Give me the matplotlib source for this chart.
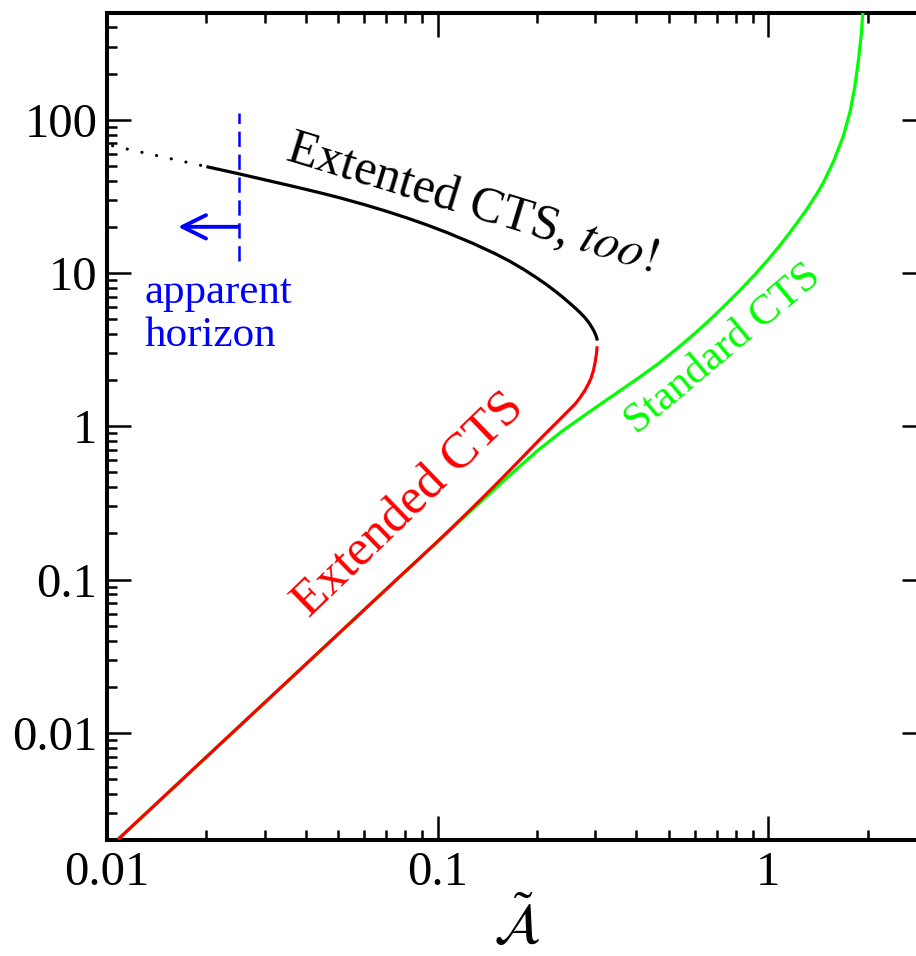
import matplotlib
matplotlib.use("Agg")
import matplotlib.pyplot as plt
from matplotlib.ticker import FixedLocator, FixedFormatter, LogLocator, NullFormatter

plt.rcParams["font.family"] = ["Liberation Serif", "DejaVu Serif"]
plt.rcParams["mathtext.fontset"] = "stix"
plt.rcParams["lines.scale_dashes"] = False

# Extended CTS, lower branch (red)
ext_low_x = [0.0108, 0.0752, 0.100, 0.120, 0.141, 0.160, 0.180, 0.2085, 0.2205, 0.2332,
             0.2465, 0.2606, 0.2699, 0.2795, 0.2864, 0.2914, 0.2965, 0.3003, 0.3028, 0.3041]
ext_low_y = [0.00202, 0.100, 0.177, 0.2586, 0.364, 0.479, 0.622, 0.862, 0.972, 1.096,
             1.236, 1.394, 1.536, 1.719, 1.896, 2.058, 2.321, 2.657, 2.996, 3.327]

# Extended CTS, upper branch (black)
ext_up_x = [0.3045, 0.30339, 0.30128, 0.29794, 0.29341, 0.28735, 0.27946, 0.26989, 0.26066,
            0.24998, 0.23975, 0.2294, 0.215, 0.200, 0.182, 0.165, 0.150, 0.128, 0.107,
            0.093, 0.081, 0.070, 0.060, 0.051, 0.045, 0.038, 0.031, 0.025, 0.020]
ext_up_y = [3.624, 3.753, 3.926, 4.150, 4.406, 4.728, 5.106, 5.519, 5.924,
            6.412, 6.923, 7.483, 8.32, 9.27, 10.58, 11.96, 13.31, 15.6, 18.33,
            20.56, 22.83, 25.28, 27.94, 30.80, 33.0, 36.04, 39.9, 44.4, 49.4]

# Upper branch inside the apparent horizon (dotted)
inner_x = [0.0104, 0.020]
inner_y = [67.5, 49.4]

# Standard CTS (green)
std_x = [0.0108, 0.0752, 0.100, 0.120, 0.141, 0.170, 0.200, 0.240, 0.300, 0.360,
         0.410, 0.470, 0.542, 0.600, 0.652, 0.720, 0.822, 0.910, 1.000, 1.080,
         1.166, 1.300, 1.400, 1.470, 1.580, 1.690, 1.770, 1.830, 1.880, 1.915,
         1.934, 1.945]
std_y = [0.00202, 0.100, 0.177, 0.254, 0.350, 0.505, 0.69, 0.94, 1.32, 1.73,
         2.10, 2.60, 3.34, 4.03, 4.73, 5.8, 7.7, 9.7, 12.2, 14.9,
         18.4, 25.4, 32.4, 38.8, 53.7, 78.3, 112.0, 163.0, 250.0, 360.0,
         483.0, 600.0]

# Apparent horizon marker
horizon_x = 0.025
horizon_y = [12.0, 110.0]
arrow_y = 20.0
arrow_tip_x = 0.0164

x_ticks = [0.01, 0.1, 1]
x_labels = ["0.01", "0.1", "1"]
y_ticks = [0.01, 0.1, 1, 10, 100]
y_labels = ["0.01", "0.1", "1", "10", "100"]

fig = plt.figure(figsize=(9.16, 9.56), dpi=100)
ax = fig.add_axes([0.1168, 0.1213, 0.8938, 0.8656])
ax.set_xscale("log")
ax.set_yscale("log")
ax.set_xlim(0.01, 3)
ax.set_ylim(0.002, 500)

lw = 2.3
ax.plot(std_x, std_y, color="#00ff00", lw=lw, solid_capstyle="butt",
        solid_joinstyle="round", zorder=3)
ax.plot(ext_low_x, ext_low_y, color="#ff0000", lw=lw, solid_capstyle="butt",
        solid_joinstyle="round", zorder=4)
ax.plot(ext_up_x, ext_up_y, color="black", lw=lw, solid_capstyle="butt",
        solid_joinstyle="round", zorder=4)
ax.plot(inner_x, inner_y, color="black", lw=2.3, linestyle=(0, (0.01, 10.8)),
        dash_capstyle="round", zorder=4)

# apparent horizon: dashed vertical line plus arrow pointing inward
ax.plot([horizon_x, horizon_x], horizon_y, color="#0000ff", lw=1.8,
        linestyle=(0, (11, 5.5)), zorder=5)
ax.annotate("", xy=(arrow_tip_x, arrow_y), xytext=(horizon_x, arrow_y),
            arrowprops=dict(arrowstyle="->, head_length=0.85, head_width=0.42",
                            lw=2.8, color="#0000ff", mutation_scale=20,
                            shrinkA=0, shrinkB=0), zorder=5)
ax.text(0.01303, 6.37, "apparent", color="#0000ff", fontsize=31,
        ha="left", va="baseline")
ax.text(0.01303, 3.33, "horizon", color="#0000ff", fontsize=31,
        ha="left", va="baseline")

# curve labels
ax.text(0.0342, 54.8, r"Extented CTS, $\mathit{too!}$", fontsize=36, color="black",
        rotation=-17, rotation_mode="anchor", ha="left", va="baseline")
ax.text(0.041, 0.0558, "Extended CTS", fontsize=37, color="#ff0000",
        rotation=44, rotation_mode="anchor", ha="left", va="baseline")
ax.text(0.401, 0.875, "Standard CTS", fontsize=31, color="#00ff00",
        rotation=40, rotation_mode="anchor", ha="left", va="baseline")

# axes styling
for sp in ax.spines.values():
    sp.set_linewidth(2.9)

ax.xaxis.set_major_locator(FixedLocator(x_ticks))
ax.xaxis.set_major_formatter(FixedFormatter(x_labels))
ax.yaxis.set_major_locator(FixedLocator(y_ticks))
ax.yaxis.set_major_formatter(FixedFormatter(y_labels))
ax.xaxis.set_minor_locator(LogLocator(base=10, subs=range(2, 10), numticks=20))
ax.yaxis.set_minor_locator(LogLocator(base=10, subs=range(2, 10), numticks=20))
ax.xaxis.set_minor_formatter(NullFormatter())
ax.yaxis.set_minor_formatter(NullFormatter())

ax.tick_params(which="both", direction="in", top=True, right=True, width=1.8)
ax.tick_params(which="major", length=17, labelsize=35)
ax.tick_params(which="minor", length=7)
ax.tick_params(axis="x", which="major", pad=8)
ax.tick_params(axis="y", which="major", pad=7)

# x-axis label, centred under the axes and kept inside the canvas
ax.set_xlabel(r"$\tilde{\mathcal{A}}$", fontsize=40, va="bottom")
ax.xaxis.set_label_coords(0.5, -0.139)

fig.savefig("out.png", dpi=100)
